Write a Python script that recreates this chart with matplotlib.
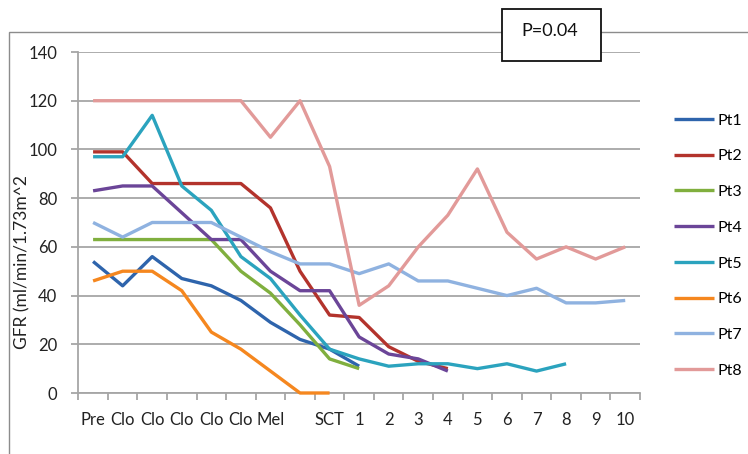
import numpy as np
import matplotlib
matplotlib.use("Agg")
import matplotlib.pyplot as plt
from matplotlib.patches import Rectangle

plt.rcParams['font.family'] = ['Lato', 'DejaVu Sans']

# categories on the x axis (one empty slot between Mel and SCT)
categories = ['Pre', 'Clo', 'Clo', 'Clo', 'Clo', 'Clo', 'Mel', '', 'SCT',
              '1', '2', '3', '4', '5', '6', '7', '8', '9', '10']

# GFR values
pt1 = [54, 44, 56, 47, 44, 38, 29, 22, 18, 11]
pt2 = [99, 99, 86, 86, 86, 86, 76, 50, 32, 31, 19, 13, 10]
pt3 = [63, 63, 63, 63, 63, 50, 41, 28, 14, 10]
pt4 = [83, 85, 85, 74, 63, 63, 50, 42, 42, 23, 16, 14, 9]
pt5 = [97, 97, 114, 85, 75, 56, 47, 32, 18, 14, 11, 12, 12, 10, 12, 9, 12]
pt6 = [46, 50, 50, 42, 25, 18, 9, 0, 0]
pt7 = [70, 64, 70, 70, 70, 64, 58, 53, 53, 49, 53, 46, 46, 43, 40, 43, 37, 37, 38]
pt8 = [120, 120, 120, 120, 120, 120, 105, 120, 93, 36, 44, 60, 73, 92, 66, 55, 60, 55, 60]

series = [pt1, pt2, pt3, pt4, pt5, pt6, pt7, pt8]
names = ['Pt1', 'Pt2', 'Pt3', 'Pt4', 'Pt5', 'Pt6', 'Pt7', 'Pt8']
colors = ['#2E64AC', '#B3332C', '#80AF3E', '#6B4598',
          '#2BA3BE', '#F5871F', '#8FB2E0', '#E29A99']

W, H = 748, 454
fig = plt.figure(figsize=(W / 100, H / 100), dpi=100)

def fx(x):
    return x / W

def fy(y):
    return 1 - y / H

# plot area in pixels: left 78, right 640, top 52, bottom 393
ax = fig.add_axes([fx(78.3), fy(393), fx(640 - 78.3), (393 - 52) / H])

for vals, name, c in zip(series, names, colors):
    ax.plot(range(len(vals)), vals, color=c, lw=2.4, label=name,
            solid_joinstyle='round', solid_capstyle='butt',
            clip_on=False, zorder=3)

ax.set_xlim(-0.5, len(categories) - 0.5)
ax.set_ylim(0, 140)
ax.set_yticks(range(0, 141, 20))
ax.set_xticks(range(len(categories)))
ax.set_xticklabels(categories)
ax.set_xticks(np.arange(-0.5, len(categories), 1), minor=True)

grid_c = '#A6A6A6'
ax.yaxis.grid(True, color=grid_c, lw=1.3)
ax.set_axisbelow(True)
for s in ['top', 'right']:
    ax.spines[s].set_visible(False)
for s in ['left', 'bottom']:
    ax.spines[s].set_color(grid_c)
    ax.spines[s].set_linewidth(1.3)
    ax.spines[s].set_zorder(1)

ax.tick_params(axis='x', which='major', length=0, pad=14, labelsize=12, colors='#222222')
ax.tick_params(axis='x', which='minor', length=5, width=1.3, color=grid_c)
ax.tick_params(axis='y', length=5, width=1.3, color=grid_c, pad=10,
               labelsize=12, labelcolor='#222222')

fig.text(fx(22), fy(262), 'GFR (ml/min/1.73m^2', rotation=90,
         ha='center', va='center', fontsize=12.5, color='#222222')

leg = ax.legend(loc='upper left', bbox_to_anchor=(fx(660), fy(99)),
                bbox_transform=fig.transFigure, frameon=False, fontsize=11.5,
                handlelength=2.5, handletextpad=0.2, labelspacing=1.35)

# outer chart border
fig.patches.append(Rectangle((fx(9), fy(470)), fx(760), (470 - 32) / H,
                             transform=fig.transFigure, fill=False,
                             edgecolor='#8C8C8C', lw=1.0, zorder=1))

# P value box
fig.patches.append(Rectangle((fx(502), fy(61)), fx(99), 52 / H,
                             transform=fig.transFigure, facecolor='white',
                             edgecolor='#111111', lw=1.3, zorder=5))
fig.text(fx(550), fy(31), 'P=0.04', ha='center', va='center',
         fontsize=13, color='#111111', zorder=6)

fig.savefig('out.png', dpi=100)
